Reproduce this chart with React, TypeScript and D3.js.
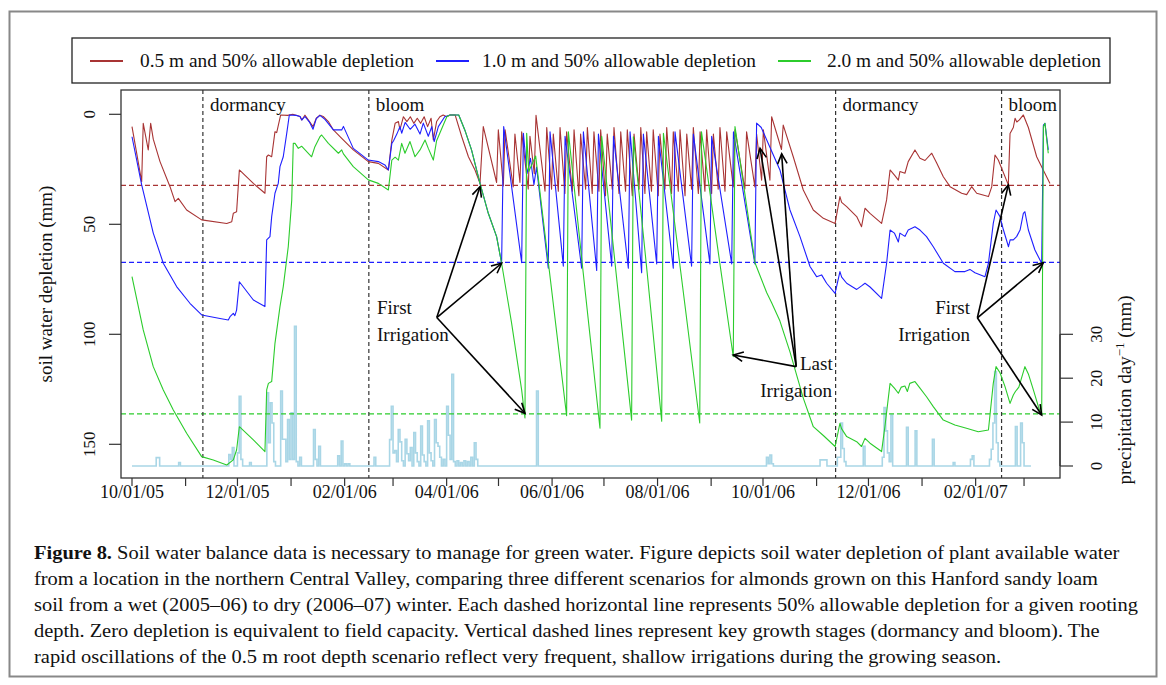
import * as d3 from "d3";
import React, { useLayoutEffect, useRef, useState } from "react";

// day = days since 10/01/05, value = soil water depletion (mm)
const redSeries: [number, number][] = [
  [0, 5.6], [5.6, 30.6], [6.5, 4.1], [9.4, 16.2], [10.8, 4.1], [12.3, 11.3], [16.2, 21.5], [22, 32.9],
  [24.9, 39.7], [26.8, 38.2], [31.6, 43.5], [40.3, 48], [54.8, 49.6], [57.7, 48.8], [58.6, 45], [60.5, 44.3],
  [62.1, 25.3], [70.2, 31.4], [76.9, 35.9], [77.9, 19.3], [78.9, 18.5], [80.8, 19.3], [82.7, 7.9], [83.7, 8.3],
  [86, 0.3], [90, 0.5], [93, 0], [97.2, 1], [98.2, 2.6], [100, 0.4], [104.7, 5.6], [106.6, 1.8], [108.7, 0.4],
  [110.6, 1], [113.6, 3.3], [116.5, 7.1], [120.3, 10.1], [128, 16.2], [136.7, 21.5], [142.5, 22.3],
  [148.3, 25.3], [150.3, 11.7], [152.2, 4.1], [154.1, 3.3], [155, 7], [157, 1.1], [159, 3.3], [161, 1.1],
  [163, 4.1], [165, 1.8], [167, 4.1], [169, 1.1], [171, 5.6], [173, 1.8], [174.3, 11.7], [176.2, 3.3],
  [178.1, 1.1], [180, 0.3], [182, 1.1], [184, 0.3], [186.9, 0.3], [190.7, 10.1], [194.6, 19.3], [198.4, 25.3],
  [201.3, 31.4], [203.2, 5.6], [210.9, 31], [211.9, 7.1], [214.8, 32.6], [215.8, 7], [220.5, 33], [221.5, 9],
  [224.4, 31], [225.4, 8], [229.2, 34], [230.2, 10], [232.7, 27], [233.7, 0.5], [238.9, 35], [239.9, 6],
  [242.7, 34], [243.7, 9], [246.6, 35], [247.6, 6], [250.4, 36], [251.4, 8], [254.7, 35], [255.7, 7],
  [258.5, 37], [259.5, 9], [262.4, 34], [263.4, 6], [266.2, 36], [267.2, 8], [270.1, 35], [271.1, 7],
  [273.9, 37], [274.9, 9], [277.8, 34], [278.8, 6], [281.7, 36], [282.7, 8], [285.5, 35], [286.5, 7],
  [289.4, 37], [290.4, 9], [293.3, 34], [294.3, 6], [296.7, 36], [297.7, 8], [300.5, 35], [301.5, 7],
  [304.4, 37], [305.4, 9], [308.3, 34], [309.3, 6], [312.1, 36], [313.1, 8], [316, 35], [317, 7],
  [319.9, 37], [320.9, 9], [323.7, 34], [324.7, 6], [327.6, 36], [328.6, 8], [331.4, 35], [332.4, 7],
  [335.3, 36], [336.3, 9], [339.1, 34], [340.1, 6], [343, 35], [344, 8], [347.8, 33], [348.8, 7],
  [354.5, 34], [355.5, 8], [360.3, 33], [361.3, 9], [364.2, 30], [365.2, 7], [369, 30], [370, 1.1],
  [375.7, 16], [376.7, 4.9], [382.5, 19.3], [388.3, 34.4], [394.1, 43.5], [399.9, 47.3], [406.7, 49.6],
  [409.5, 37.4], [410.5, 40], [413.4, 42], [419.2, 46.5], [422, 51.1], [424, 42.7], [426.9, 45],
  [433.6, 49.6], [436.5, 38.9], [438.5, 25.3], [441.4, 28], [443.3, 29.9], [444.2, 26], [447.1, 26.8],
  [449, 21.5], [452.9, 16.2], [455.8, 20], [458.7, 21], [462.6, 17.7], [465.4, 22], [469.3, 28.4],
  [473.2, 32.9], [479.9, 35.9], [482.8, 36.5], [485.7, 32.9], [488.6, 35.9], [495.4, 37.4], [497.3, 33],
  [499.2, 18.5], [501.1, 20.8], [503.1, 24.6], [506.9, 32.1], [507.9, 8.7], [509.8, 6], [510.8, 1.8],
  [511.8, 3.5], [513.3, 2.5], [515.6, 0.3], [518.5, 6], [523.3, 19.3], [527.1, 25.3], [531, 31.4],
];

const blueSeries: [number, number][] = [
  [0, 10.2], [5.6, 32.1], [12.3, 54], [18.1, 67.7], [25.8, 78.3], [33.5, 85.9], [40.3, 91.2], [50.9, 92.8],
  [55.7, 93.5], [56.7, 92], [58.6, 90.5], [59.5, 91.5], [60.5, 89], [62.1, 76.1], [70.2, 84.4], [76.9, 87.4],
  [77.9, 57.1], [79.8, 55.6], [80.8, 46.5], [82.7, 35.9], [84.6, 31.4], [85.6, 23.8], [87.5, 19.3],
  [89.5, 8.7], [91, 0.3], [95, 0.5], [97.2, 1], [98.2, 2.6], [100, 1], [102.8, 3.7], [104.7, 6.8],
  [106.6, 2], [108.7, 0.5], [111.6, 2.3], [116.5, 7.1], [121.3, 7.1], [122.3, 5.5], [128, 15.5],
  [136.7, 20.8], [142.5, 21.5], [146.3, 23], [148.3, 25.3], [150.3, 13.2], [151.3, 12], [153.2, 9],
  [155, 5.6], [156, 8.6], [158, 3.7], [160.9, 6.8], [163.7, 4.5], [166.6, 9], [168.5, 4], [171.4, 10],
  [173.4, 5.6], [174.8, 12.4], [177.2, 5.6], [180.9, 1.1], [184, 0.3], [189, 0.3], [192.5, 7.1],
  [196.4, 16.2], [201.3, 31.4], [206.1, 45], [210.9, 55.6], [213.8, 67.7], [215, 5.6], [225.4, 67.5],
  [226.4, 8.6], [228.5, 27], [230.5, 20], [232.5, 32], [234, 24], [240.8, 70], [241.8, 8], [249.5, 69],
  [250.5, 10], [260.1, 70], [261.1, 8], [268.8, 71], [269.8, 9], [277.5, 69], [278.5, 10], [287.1, 70],
  [288.1, 8], [294.8, 72], [295.8, 9], [303.5, 68], [304.5, 10], [313.1, 70], [314.1, 8], [323.7, 69],
  [324.7, 9], [334.3, 68], [335.3, 10], [346.9, 68], [347.9, 8], [360.3, 68], [361.3, 4], [364, 6],
  [369, 15], [374.8, 25.3], [380.6, 43.5], [386.4, 55.6], [392.2, 69.2], [396, 73.8], [398.9, 73],
  [401.8, 76.8], [406.7, 81.4], [409.5, 71.5], [410.5, 74], [413.4, 76.8], [419.2, 79.6], [422, 78],
  [424, 76.8], [426.9, 78.5], [433.6, 83.7], [436.5, 67.7], [438.5, 52.6], [441, 54], [443.3, 58],
  [444.2, 54], [447.1, 55.5], [449, 52.6], [452.9, 51.1], [455.8, 52.6], [459.6, 55.6], [463.5, 60.2],
  [469.3, 67.7], [476, 71.5], [481.8, 71.5], [484.7, 70.5], [487.6, 72], [493.4, 73.8], [495.4, 67.7],
  [498.2, 49.6], [499.8, 43.5], [502.1, 46.5], [504.1, 52.6], [507, 60.2], [508, 57], [509.8, 57.1],
  [511.7, 55.6], [513.7, 52.6], [515.6, 45], [516.5, 44.3], [518.5, 52.6], [522.3, 61.7], [526.2, 67.7],
  [527.2, 4.9], [528.1, 4.1], [530, 16.2],
];

const greenSeries: [number, number][] = [
  [0, 73.8], [6.5, 98], [12.3, 114.7], [18.1, 125.3], [23.9, 134.4], [31.6, 145], [40.3, 155.6], [47, 157.1],
  [54.8, 159.4], [58.6, 157.1], [60.5, 152.6], [62.1, 142], [70.2, 148], [76.9, 153.3], [77.9, 125.3],
  [78.9, 122.3], [80.8, 121.5], [82.7, 104.1], [85.6, 87.4], [87.5, 78.3], [90.4, 60.1], [92.4, 39],
  [93.3, 13.2], [94.3, 13.2], [96.2, 15.5], [98.1, 14.5], [103.9, 19.3], [105.8, 14.7], [108.7, 10.2],
  [109.7, 9.4], [113.6, 13.2], [119.4, 17.7], [121.3, 16.2], [122.3, 18], [128, 23.8], [136.7, 29.8],
  [142.5, 31.4], [148.3, 34.4], [150.3, 20.8], [152.2, 19.5], [154.1, 20.8], [156, 13.2], [157.9, 17.7],
  [160.8, 12.4], [163.7, 19.3], [166.6, 16.2], [169.5, 11.7], [171.4, 15.5], [174.3, 20.8], [176.2, 12],
  [178.1, 8.5], [180, 5], [182.1, 1.1], [184, 0.3], [189, 0.3], [192.5, 7.1], [196.4, 16.2], [201.3, 31.4],
  [206.1, 45], [210.9, 55.6], [213.8, 67.7], [219.6, 95], [225.4, 125.3], [227.3, 138], [228.3, 8.6],
  [229.5, 26], [233.5, 19], [242, 75], [251.4, 137], [252.4, 7.9], [261, 72], [270.7, 142.7], [271.7, 10],
  [280, 72], [289, 139], [290, 10.2], [298, 72], [306.4, 139.5], [307.4, 8.6], [317.5, 72], [328.4, 140.3],
  [329.4, 7.9], [339, 62], [347.8, 110.2], [348.8, 5.6], [360.4, 67.6], [367.1, 81], [370, 85.7],
  [374.8, 94], [380.6, 108], [388.3, 129], [394.1, 142], [399.9, 146], [406.7, 151], [409.5, 140.5],
  [410.5, 143], [413.4, 146.5], [419.2, 148.8], [422, 151], [424, 147.3], [426.9, 149.5], [433.6, 153.3],
  [435.5, 142], [438.5, 122.3], [441, 124.5], [443.3, 126.8], [445, 124], [447.1, 123.5], [448.5, 126],
  [449.9, 122.3], [452.9, 121.5], [455.8, 124.5], [459.6, 128.4], [463.5, 132.9], [469.3, 139], [476, 141.2],
  [482.7, 142.7], [489.5, 144.3], [495.4, 143.5], [498.2, 122.3], [499.8, 114.7], [502.1, 117.5],
  [505, 123.8], [507.9, 131.4], [509.8, 127.6], [511, 126], [513, 124], [516.5, 114.7], [518.5, 118],
  [521.4, 125.3], [524.3, 132.9], [526.2, 136.7], [527.2, 5.6], [528.1, 4.1], [530, 17.7],
];

// rainy days: [day, mm]
const rainDays: [number, number][] = [
  [14, 1.9], [15, 1.9], [27, 0.8], [56, 2.6], [57, 1.5], [58, 4.2], [61, 3], [62, 15.9], [63, 1.5], [68, 0.8],
  [78, 16.7], [79, 5.3], [80, 14.4], [81, 9.8], [82, 1], [86, 17.1], [87, 6.1], [88, 6.1], [89, 1],
  [90, 10.6], [91, 1.5], [92, 12.1], [93, 1.5], [94, 31.8], [95, 1], [97, 2], [105, 8.3], [106, 1.5],
  [108, 4.5], [119, 2.3], [121, 5.7], [123, 0.5], [125, 0.5], [140, 2], [149, 6], [150, 13.6], [151, 3],
  [152, 3.5], [153, 1], [154, 8.3], [155, 5.5], [156, 1.2], [158, 6.1], [159, 2.8], [160, 1.2], [161, 4.2],
  [163, 7.6], [164, 3], [165, 1], [167, 9.1], [168, 2.5], [169, 1], [171, 10.3], [172, 3], [173, 1.2],
  [175, 10.6], [176, 5.3], [177, 4.5], [178, 2], [180, 1.5], [182, 13.6], [183, 7], [184, 1.5], [185, 20.9],
  [186, 1], [188, 1.2], [190, 0.8], [192, 1.2], [194, 1], [196, 2], [198, 5.3], [199, 1.5], [234, 17.1],
  [367, 2], [368, 0.5], [369, 2.5], [370, 0.5], [398, 1.4], [399, 1.4], [400, 1.4], [401, 1.4], [408, 2],
  [409, 2], [410, 9.8], [411, 4], [412, 1], [423, 4.5], [434, 2], [435, 13.3], [436, 8], [437, 3], [438, 1],
  [439, 11.6], [448, 8.8], [453, 8], [463, 6.1], [475, 0.8], [485, 1.5], [486, 2.3], [496, 1.5], [497, 3.8],
  [498, 9.8], [499, 21.5], [500, 5.3], [501, 1], [511, 9], [514, 9.8], [515, 5.3],
];
const rainLastDay = 520;

const dormancyDays = [41, 407];
const bloomDays = [137, 503];
const allowableDepletion = [32.3, 67.3, 136.2];
const depthTicks = [0, 50, 100, 150];
const rainTicks = [0, 10, 20, 30];
const legendLabels = [
  "0.5 m and 50% allowable depletion",
  "1.0 m and 50% allowable depletion",
  "2.0 m and 50% allowable depletion",
];
const colors = ["#a83434", "#1f1fff", "#2ccc2c"];

// annotation arrows: from [day, mm] to [day, mm]
const firstIrr1 = { from: [176.3, 92.4], to: [[201.3, 32.9], [213.8, 67.7], [227.3, 135.9]] };
const firstIrr2 = { from: [489, 92.5], to: [[506.9, 32.1], [527.1, 67.5], [526.2, 136.7]] };
const lastIrr = { from: [384.2, 114.7], to: [[347.8, 109.4], [363.3, 15.5], [375.8, 18]] };

const captionLines = [
  "Soil water balance data is necessary to manage for green water. Figure depicts soil water depletion of plant available water",
  "from a location in the northern Central Valley, comparing three different scenarios for almonds grown on this Hanford sandy loam",
  "soil from a wet (2005–06) to dry (2006–07) winter. Each dashed horizontal line represents 50% allowable depletion for a given rooting",
  "depth. Zero depletion is equivalent to field capacity. Vertical dashed lines represent key growth stages (dormancy and bloom). The",
  "rapid oscillations of the 0.5 m root depth scenario reflect very frequent, shallow irrigations during the growing season.",
];

const T0 = Date.UTC(2005, 9, 1);
const toDate = (d: number) => new Date(T0 + d * 864e5);

const SERIF =
  '"Liberation Serif", "Times New Roman", Times, Tinos, "Noto Serif", "DejaVu Serif", FreeSerif, "Nimbus Roman", serif';

const App: React.FC = () => {
  const left = 121, right = 1060, top = 90, bottom = 478;

  const capRefs = useRef<(SVGTextElement | null)[]>([]);
  const [capLens, setCapLens] = useState<number[] | null>(null);
  useLayoutEffect(() => {
    if (capLens) return;
    const w = capRefs.current.map((el) => (el ? el.getComputedTextLength() : 0));
    if (!w[2]) return;
    const k = (1138 - 34) / w[2];
    setCapLens(w.map((v) => v * k));
  }, [capLens]);

  const x = d3.scaleUtc().domain([toDate(0), toDate(365)]).range([132, 763]);
  const y = d3.scaleLinear().domain([0, 150]).range([114.3, 444.3]);
  const yRain = d3.scaleLinear().domain([0, 30]).range([466, 334.3]);

  const line = d3
    .line<[number, number]>()
    .x((d) => x(toDate(d[0])))
    .y((d) => y(d[1]));

  // step outline of daily rain
  const rainPts: [number, number][] = [[0, 0]];
  rainDays.forEach(([d, mm], i) => {
    rainPts.push([d, mm]);
    const next = rainDays[i + 1];
    if (!next || next[0] !== d + 1) rainPts.push([d + 1, 0]);
  });
  rainPts.push([rainLastDay, 0]);
  const rainLine = d3
    .line<[number, number]>()
    .x((d) => x(toDate(d[0])))
    .y((d) => yRain(d[1]))
    .curve(d3.curveStepAfter);

  const months = d3.utcMonth.range(toDate(0), new Date(Date.UTC(2007, 2, 2)));
  const fmt = d3.utcFormat("%m/%d/%y");

  const arrow = (a: number[], b: number[], key: string) => {
    const x1 = x(toDate(a[0])), y1 = y(a[1]);
    const x2 = x(toDate(b[0])), y2 = y(b[1]);
    const ang = Math.atan2(y2 - y1, x2 - x1);
    const L = 11, w = Math.PI / 7;
    const h1 = [x2 - L * Math.cos(ang - w), y2 - L * Math.sin(ang - w)];
    const h2 = [x2 - L * Math.cos(ang + w), y2 - L * Math.sin(ang + w)];
    return (
      <g key={key} stroke="#000" strokeWidth={1.6} fill="none">
        <line x1={x1} y1={y1} x2={x2} y2={y2} />
        <polyline points={`${h1[0]},${h1[1]} ${x2},${y2} ${h2[0]},${h2[1]}`} />
      </g>
    );
  };

  const series = [redSeries, blueSeries, greenSeries];
  const legendLineX = [90, 436, 778];
  const legendTextX = [140, 482, 827];

  return (
    <svg
      width={1166}
      height={685}
      style={{ position: "absolute", left: 0, top: 0, background: "#fff", fontFamily: SERIF }}
    >
      <rect x={9.5} y={11.5} width={1147} height={665} fill="none" stroke="#888" strokeWidth={2} />

      {/* legend */}
      <rect x={72} y={38} width={1038} height={45} fill="#fff" stroke="#222" strokeWidth={1.3} />
      {legendLabels.map((lab, i) => (
        <g key={lab}>
          <line x1={legendLineX[i]} x2={legendLineX[i] + 33} y1={61} y2={61} stroke={colors[i]} strokeWidth={2} />
          <text x={legendTextX[i]} y={67} fontSize={19} textLength={274} lengthAdjust="spacingAndGlyphs" fill="#111">
            {lab}
          </text>
        </g>
      ))}

      <defs>
        <clipPath id="plotClip">
          <rect x={left} y={top} width={right - left} height={bottom - top} />
        </clipPath>
      </defs>

      <g clipPath="url(#plotClip)">
        <path d={rainLine(rainPts) ?? ""} fill="none" stroke="#a9d6e6" strokeWidth={1.6} />
        {allowableDepletion.map((v, i) => (
          <line key={v} x1={left} x2={right} y1={y(v)} y2={y(v)} stroke={colors[i]} strokeWidth={1.2} strokeDasharray="5,3" />
        ))}
        {[...dormancyDays, ...bloomDays].map((d) => (
          <line key={d} x1={x(toDate(d))} x2={x(toDate(d))} y1={top} y2={bottom} stroke="#333" strokeWidth={1.2} strokeDasharray="4,3" />
        ))}
        {series.map((s, i) => (
          <path key={i} d={line(s) ?? ""} fill="none" stroke={colors[i]} strokeWidth={1.1} strokeLinejoin="round" />
        ))}
      </g>

      {/* stage labels */}
      {dormancyDays.map((d) => (
        <text key={"d" + d} x={x(toDate(d)) + 7} y={111} fontSize={19} fill="#111">dormancy</text>
      ))}
      {bloomDays.map((d) => (
        <text key={"b" + d} x={x(toDate(d)) + 7} y={111} fontSize={19} fill="#111">bloom</text>
      ))}

      {/* annotations */}
      {[firstIrr1, firstIrr2, lastIrr].map((a, k) => a.to.map((t, j) => arrow(a.from, t, `a${k}${j}`)))}
      <text x={377} y={314} fontSize={19} fill="#111">First</text>
      <text x={377} y={341} fontSize={19} fill="#111">Irrigation</text>
      <text x={970} y={314} fontSize={19} fill="#111" textAnchor="end">First</text>
      <text x={970} y={341} fontSize={19} fill="#111" textAnchor="end">Irrigation</text>
      <text x={800} y={370} fontSize={19} fill="#111">Last</text>
      <text x={832} y={397} fontSize={19} fill="#111" textAnchor="end">Irrigation</text>

      {/* plot frame */}
      <rect x={left} y={top} width={right - left} height={bottom - top} fill="none" stroke="#333" strokeWidth={1.3} />

      {/* left axis */}
      {depthTicks.map((t) => (
        <g key={"l" + t}>
          <line x1={109} x2={left} y1={y(t)} y2={y(t)} stroke="#333" strokeWidth={1.2} />
          <text transform={`translate(95,${y(t)}) rotate(-90)`} textAnchor="middle" fontSize={17} fill="#111">{t}</text>
        </g>
      ))}
      <text transform={`translate(52,${(top + bottom) / 2}) rotate(-90)`} textAnchor="middle" fontSize={19} fill="#111">
        soil water depletion (mm)
      </text>

      {/* right axis */}
      <line x1={right} x2={right} y1={yRain(0)} y2={yRain(30)} stroke="#333" strokeWidth={1.2} />
      {rainTicks.map((t) => (
        <g key={"r" + t}>
          <line x1={right} x2={1073} y1={yRain(t)} y2={yRain(t)} stroke="#333" strokeWidth={1.2} />
          <text transform={`translate(1102,${yRain(t)}) rotate(-90)`} textAnchor="middle" fontSize={17} fill="#111">{t}</text>
        </g>
      ))}
      <text transform={`translate(1131,390) rotate(-90)`} textAnchor="middle" fontSize={19} fill="#111">
        precipitation  day
        <tspan fontSize={13} dy={-7}>−1</tspan>
        <tspan dy={7}> (mm)</tspan>
      </text>

      {/* bottom axis */}
      {months.map((m, i) => (
        <g key={m.toISOString()}>
          <line x1={x(m)} x2={x(m)} y1={bottom} y2={bottom + 8} stroke="#333" strokeWidth={1.2} />
          {i % 2 === 0 && (
            <text x={x(m)} y={498} textAnchor="middle" fontSize={18} fill="#111">{fmt(m)}</text>
          )}
        </g>
      ))}

      {/* caption */}
      {captionLines.map((ln, i) => (
        <text
          key={i}
          ref={(el) => {
            capRefs.current[i] = el;
          }}
          x={34}
          y={559 + i * 26}
          fontSize={19}
          fill="#111"
          textLength={capLens ? capLens[i] : undefined}
          lengthAdjust="spacingAndGlyphs"
        >
          {i === 0 && <tspan fontWeight="bold">Figure 8. </tspan>}
          {ln}
        </text>
      ))}
    </svg>
  );
};

export default App;
